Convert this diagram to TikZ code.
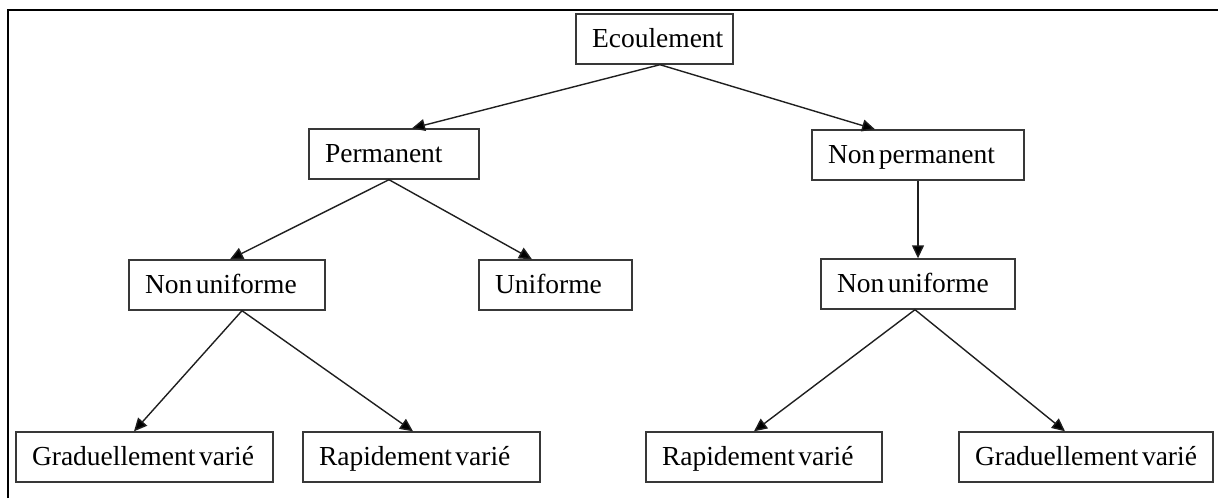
\documentclass[tikz,border=0pt]{standalone}
\usepackage{fontspec}
\setmainfont{Liberation Serif}
\usetikzlibrary{arrows.meta,calc}
\begin{document}
\begin{tikzpicture}[x=1pt,y=-1pt,
  box/.style={draw=black!78,line width=1.4pt,minimum height=50pt,inner ysep=0pt,inner xsep=16pt,
    text height=17pt,text depth=0pt,align=left,font=\fontsize{27.5}{30}\selectfont,
    execute at begin node={\spaceskip=3.6pt\relax}},
  arr/.style={draw=black!88,line width=1.4pt,-{Triangle[length=13pt,width=12pt,fill=black]}}]
\useasboundingbox (0,0) rectangle (1218,498);
\draw[line width=2.2pt] (8,498) -- (8,10) -- (1218,10);
\node[box,text width=125pt] (e) at (654.5,39) {Ecoulement};
\node[box,text width=138pt] (p) at (394,154) {Permanent};
\node[box,text width=180pt] (np) at (918,155) {\mbox{Non permanent}};
\node[box,text width=164pt] (nu1) at (227,285) {\mbox{Non uniforme}};
\node[box,text width=121pt] (u) at (555.5,285) {Uniforme};
\node[box,text width=162pt] (nu2) at (918,284) {\mbox{Non uniforme}};
\node[box,text width=225pt] (g1) at (144.5,457) {\mbox{Graduellement varié}};
\node[box,text width=205pt] (r1) at (421.5,457) {\mbox{Rapidement varié}};
\node[box,text width=204pt] (r2) at (764,457) {\mbox{Rapidement varié}};
\node[box,text width=222pt] (g2) at (1086,457) {\mbox{Graduellement varié}};
\draw[arr] ($(e.south)+(5.5,0)$) -- ($(p.north)+(18,0)$);
\draw[arr] ($(e.south)+(5.5,0)$) -- ($(np.north)+(-43,0)$);
\draw[arr] ($(p.south)+(-5,0)$) -- ($(nu1.north)+(3,0)$);
\draw[arr] ($(p.south)+(-5,0)$) -- ($(u.north)+(-23.5,0)$);
\draw[arr] (np.south) -- (nu2.north);
\draw[arr] ($(nu1.south)+(15,0)$) -- ($(g1.north)+(-10.5,0)$);
\draw[arr] ($(nu1.south)+(15,0)$) -- ($(r1.north)+(-8.5,0)$);
\draw[arr] ($(nu2.south)+(-3,0)$) -- ($(r2.north)+(-10,0)$);
\draw[arr] ($(nu2.south)+(-3,0)$) -- ($(g2.north)+(-21,0)$);
\end{tikzpicture}
\end{document}
